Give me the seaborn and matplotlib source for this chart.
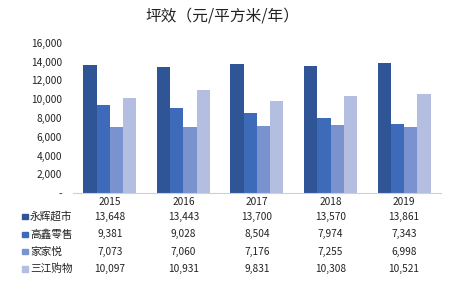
import pandas as pd
import numpy as np
import seaborn as sns
import matplotlib.pyplot as plt
from matplotlib.patches import Rectangle
from matplotlib.transforms import blended_transform_factory

years = ['2015', '2016', '2017', '2018', '2019']
stores = ['永辉超市', '高鑫零售', '家家悦', '三江购物']
yonghui = [13648, 13443, 13700, 13570, 13861]
gaoxin = [9381, 9028, 8504, 7974, 7343]
jiajiayue = [7073, 7060, 7176, 7255, 6998]
sanjiang = [10097, 10931, 9831, 10308, 10521]
colors = ['#2F5597', '#3D6BB9', '#7A93CF', '#B3BEE0']

values = [yonghui, gaoxin, jiajiayue, sanjiang]
df = pd.DataFrame({
    'year': np.repeat([years], len(stores), axis=0).ravel(),
    'store': np.repeat(stores, len(years)),
    'value': np.concatenate(values),
})

sns.set_style('white')
plt.rcParams['font.family'] = ['Noto Sans CJK SC', 'DejaVu Sans']

fig = plt.figure(figsize=(4.54, 2.84), dpi=100)
ax = fig.add_axes([0.161, 0.320, 0.810, 0.529])

sns.barplot(data=df, x='year', y='value', hue='store', order=years, hue_order=stores,
            palette=colors, width=0.72, gap=0, saturation=1, linewidth=0,
            legend=False, ax=ax)

ax.set_ylim(0, 16000)
ax.set_xlim(-0.5, 4.5)
ax.set_yticks(range(0, 16001, 2000))
ax.set_yticklabels(['-'] + [f'{v:,}' for v in range(2000, 16001, 2000)], fontsize=7.3)
ax.tick_params(axis='both', length=0, colors='#222222')
ax.tick_params(axis='x', pad=3)
ax.tick_params(axis='y', pad=8)
ax.set_xticklabels(years, fontsize=7.3)
ax.set_xlabel('')
ax.set_ylabel('')
for s in ['top', 'right', 'left']:
    ax.spines[s].set_visible(False)
ax.spines['bottom'].set_color('#D0D0D0')
ax.spines['bottom'].set_linewidth(0.8)

fig.text(0.489, 0.945, '坪效（元/平方米/年）', ha='center', va='center', fontsize=11.3, color='#222222')

# data table under the chart
row_y = [216.7, 234.3, 251.7, 269.0]
trans = blended_transform_factory(ax.transData, fig.transFigure)
for i, (name, vals) in enumerate(zip(stores, values)):
    yf = 1 - row_y[i] / 284
    fig.patches.append(Rectangle((22 / 454, yf - 2.7 / 284), 5.5 / 454, 5.5 / 284,
                                 transform=fig.transFigure, color=colors[i]))
    fig.text(30 / 454, yf, name, ha='left', va='center', fontsize=7.7, color='#222222')
    for j, v in enumerate(vals):
        ax.text(j, yf, f'{v:,}', ha='center', va='center', fontsize=7.3, color='#222222',
                transform=trans, clip_on=False)

fig.savefig('out.png', dpi=100)
